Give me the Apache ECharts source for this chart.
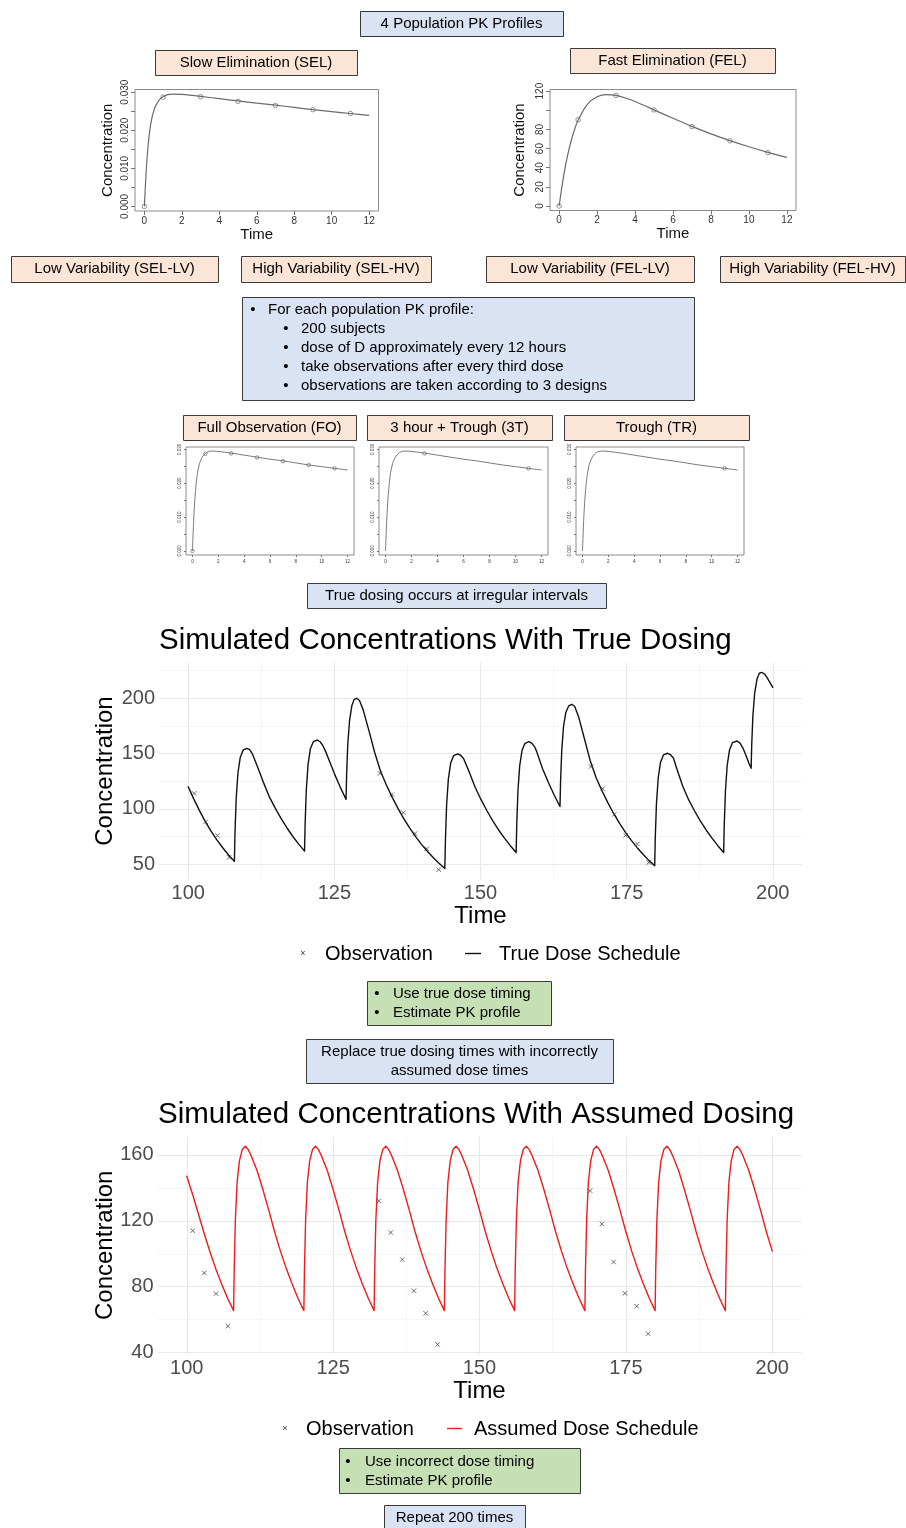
<!DOCTYPE html>
<html><head><meta charset="utf-8">
<script src="https://cdn.jsdelivr.net/npm/echarts@6/dist/echarts.min.js"></script>
<style>html,body{margin:0;padding:0;background:#fff}#c{width:906px;height:1528px}</style>
</head><body><div id="c"></div>
<script>
// ---------------- DATA ----------------
// Population PK profile (Slow Elimination) : [time, concentration]
const selCurve = [[0,0],[0.1,0.0095],[0.2,0.0160],[0.3,0.0203],[0.4,0.0232],[0.5,0.0251],[0.6,0.0264],[0.8,0.0280],[1.0,0.0288],[1.2,0.0293],[1.5,0.0295],[2,0.0294],[3,0.0289],[4,0.0283],[5,0.0277],[6,0.0271],[7,0.0266],[8,0.0260],[9,0.0254],[10,0.0249],[11,0.0244],[12,0.0239]];
const selObs = [[0,0],[1,0.0287],[3,0.0288],[5,0.0276],[7,0.0265],[9,0.0254],[11,0.0244]];
// Population PK profile (Fast Elimination)
const felCurve = [[0,0],[0.25,32.8],[0.5,57.5],[0.75,76.0],[1,89.6],[1.5,106.4],[2,114.1],[2.5,116.4],[3,115.5],[3.5,112.8],[4,109.1],[5,100.4],[6,91.6],[7,83.2],[8,75.4],[9,68.3],[10,61.9],[11,56.1],[12,50.8]];
const felObs = [[0,0],[1,90.1],[3,115.5],[5,100.4],[7,82.9],[9,68.1],[11,55.7]];
// observation designs (times of the SEL observations that are kept)
const foTimes = [0,1,3,5,7,9,11];
const t3Times = [3,11];
const trTimes = [11];
// simulated concentrations, true dosing : [time, concentration]
const trueCurve = [
 [100,120.0],[100.9,109.5],[101.9,98.6],[102.9,88.7],[103.9,79.9],[104.9,71.9],[105.9,64.8],[106.9,58.3],[107.9,52.5],
 [108.0,78.1],[108.2,108.7],[108.5,132.2],[108.9,146.5],[109.4,153.2],[110.0,154.7],
 [110.5,153.5],[111.0,149.5],[111.9,137.5],[112.9,123.5],[113.9,110.6],[114.9,100.4],[115.9,91.1],[116.9,82.7],[117.9,75.0],[118.9,68.1],[119.9,61.8],
 [120.0,86.9],[120.2,117.1],[120.5,140.2],[120.9,154.3],[121.4,160.8],[122.1,162.3],
 [122.6,160.5],[123.0,157.5],[123.5,152.0],[124.0,145.3],[125.0,131.9],[126.0,119.7],[127.0,108.6],
 [127.1,131.5],[127.3,158.9],[127.6,179.9],[128.0,193.6],[128.4,199.1],[128.8,200.0],
 [129.3,198.0],[129.9,190.0],[130.9,171.0],[131.9,151.0],[132.9,134.0],[133.9,121.6],[134.9,110.4],[135.9,100.2],[136.9,90.9],[137.9,82.5],[138.9,74.9],[139.9,67.9],[140.9,61.7],[141.9,56.0],[142.9,50.8],[143.9,46.1],
 [144.0,72.0],[144.2,103.1],[144.5,126.9],[144.9,141.4],[145.4,148.1],[146.1,149.7],
 [146.6,148.5],[147.1,145.5],[148.1,133.0],[149.1,119.3],[150.1,108.3],[151.1,98.3],[152.1,89.2],[153.1,80.9],[154.1,73.5],[155.1,66.7],[156.1,60.5],
 [156.2,85.6],[156.4,115.7],[156.7,138.7],[157.1,152.8],[157.6,159.3],[158.3,160.8],
 [158.8,159.2],[159.3,155.8],[159.6,152.0],[160.6,136.6],[161.6,124.0],[162.6,112.5],[163.6,102.1],
 [163.7,125.2],[163.9,153.0],[164.2,174.3],[164.6,187.2],[165.1,193.2],[165.6,194.6],
 [166.1,192.8],[166.8,183.0],[167.8,163.0],[168.8,143.0],[169.8,127.9],[170.8,116.1],[171.8,105.4],[172.8,95.6],[173.8,86.8],[174.8,78.8],[175.8,71.5],[176.8,64.9],[177.8,58.9],[178.8,53.4],[179.8,48.5],
 [179.9,74.0],[180.1,104.5],[180.4,127.9],[180.8,142.2],[181.3,148.8],[182.0,150.3],
 [182.5,149.0],[183.0,146.0],[183.6,136.0],[184.6,120.5],[185.6,108.3],[186.6,98.3],[187.6,89.2],[188.6,80.9],[189.6,73.5],[190.6,66.7],[191.6,60.5],
 [191.7,85.7],[191.9,116.0],[192.2,139.2],[192.6,153.3],[193.1,159.9],[193.9,161.4],
 [194.4,159.5],[194.9,155.0],[195.4,148.5],[195.9,141.5],[196.3,136.7],
 [196.4,158.4],[196.6,184.4],[196.9,204.4],[197.3,217.4],[197.7,222.7],[198.1,223.5],
 [198.6,222.0],[199.0,219.0],[199.5,214.5],[200.0,209.9]
];
// simulated concentrations, assumed (regular) dosing
const assumedCurve = [
 [100,147.1],[101,136.0],[102,124.0],[103,112.0],[104,100.8],[105,90.5],[106,81.2],[107,72.8],
 [108,65.5],[108.1,90.5],[108.3,120.5],[108.6,143.5],[109,156.5],[109.5,163.5],[110,165.3],[110.5,163.2],[111,159.5],[112,150.5],[113,139.0],[114,126.5],[115,113.4],[116,101.6],[117,91.0],[118,81.6],[119,73.0],
 [120,65.5],[120.1,90.5],[120.3,120.5],[120.6,143.5],[121,156.5],[121.5,163.5],[122,165.3],[122.5,163.2],[123,159.5],[124,150.5],[125,139.0],[126,126.5],[127,113.4],[128,101.6],[129,91.0],[130,81.6],[131,73.0],
 [132,65.5],[132.1,90.5],[132.3,120.5],[132.6,143.5],[133,156.5],[133.5,163.5],[134,165.3],[134.5,163.2],[135,159.5],[136,150.5],[137,139.0],[138,126.5],[139,113.4],[140,101.6],[141,91.0],[142,81.6],[143,73.0],
 [144,65.5],[144.1,90.5],[144.3,120.5],[144.6,143.5],[145,156.5],[145.5,163.5],[146,165.3],[146.5,163.2],[147,159.5],[148,150.5],[149,139.0],[150,126.5],[151,113.4],[152,101.6],[153,91.0],[154,81.6],[155,73.0],
 [156,65.5],[156.1,90.5],[156.3,120.5],[156.6,143.5],[157,156.5],[157.5,163.5],[158,165.3],[158.5,163.2],[159,159.5],[160,150.5],[161,139.0],[162,126.5],[163,113.4],[164,101.6],[165,91.0],[166,81.6],[167,73.0],
 [168,65.5],[168.1,90.5],[168.3,120.5],[168.6,143.5],[169,156.5],[169.5,163.5],[170,165.3],[170.5,163.2],[171,159.5],[172,150.5],[173,139.0],[174,126.5],[175,113.4],[176,101.6],[177,91.0],[178,81.6],[179,73.0],
 [180,65.5],[180.1,90.5],[180.3,120.5],[180.6,143.5],[181,156.5],[181.5,163.5],[182,165.3],[182.5,163.2],[183,159.5],[184,150.5],[185,139.0],[186,126.5],[187,113.4],[188,101.6],[189,91.0],[190,81.6],[191,73.0],
 [192,65.5],[192.1,90.5],[192.3,120.5],[192.6,143.5],[193,156.5],[193.5,163.5],[194,165.3],[194.5,163.2],[195,159.5],[196,150.5],[197,139.0],[198,126.5],[199,113.4],[200,101.6]
];
// observations (same in both simulated panels)
const obsTime = [101,103,105,107,132.8,134.85,136.8,138.8,140.8,142.85,168.9,170.9,172.9,174.85,176.85,178.8];
const obsConc = [114.0,88.4,75.8,56.1,132.1,112.9,96.5,77.6,63.9,45.0,138.3,118.1,95.0,76.0,68.2,51.5];
// tick values
const rTimeTicks = [0,2,4,6,8,10,12];
const selTicks = [0,0.005,0.01,0.015,0.02,0.025,0.03];
const selLabels = [0,0.01,0.02,0.03];
const felTicks = [0,20,40,60,80,100,120];
const felLabels = [0,20,40,60,80,120];
const timeMajor = [100,125,150,175,200];
const timeMinor = [112.5,137.5,162.5,187.5];
const trueMajor = [50,100,150,200];
const trueMinor = [75,125,175,225];
const assumedMajor = [40,80,120,160];
const assumedMinor = [60,100,140];

// ---------------- STYLE / LAYOUT ----------------
const FONT = '"Liberation Sans", Arial, Helvetica, sans-serif';
const BLUE = '#dae3f3', PEACH = '#fbe5d6', GREEN = '#c5e0b4', EDGE = '#3a3a3a';
const obsData = obsTime.map((t, i) => [t, obsConc[i]]);
const pick = times => selObs.filter(p => times.includes(p[0]));

function rX(gi, min, max, ticks, labels, o) {
  return {type:'value', gridIndex:gi, min, max,
    axisLine:{show:false, onZero:false}, splitLine:{show:false},
    axisTick:{show:true, inside:false, length:o.tl, customValues:ticks, lineStyle:{color:'#777', width:1}},
    axisLabel:{customValues:labels, fontSize:o.fs, color:'#333', margin:o.lm, fontFamily:FONT},
    name:o.name || '', nameLocation:'middle', nameGap:o.ng || 0,
    nameTextStyle:{fontSize:15, color:'#111', fontFamily:FONT}};
}
function rY(gi, min, max, ticks, labels, o) {
  const a = rX(gi, min, max, ticks, labels, o);
  a.axisLabel.rotate = 90;
  if (o.fmt) a.axisLabel.formatter = o.fmt;
  return a;
}
function gX(gi, o) {
  return {type:'value', gridIndex:gi, min:95, max:205, z:0,
    axisLine:{show:false, onZero:false},
    axisTick:{show:false, customValues:timeMajor},
    axisLabel:{customValues:timeMajor, fontSize:20, color:'#4d4d4d', margin:4, fontFamily:FONT},
    splitLine:{show:true, lineStyle:{color:'#e8e8e8', width:1.2}},
    name:'Time', nameLocation:'middle', nameGap:o.ng,
    nameTextStyle:{fontSize:24, color:'#000', fontFamily:FONT}};
}
function gY(gi, min, max, major, o) {
  return {type:'value', gridIndex:gi, min, max, z:0,
    axisLine:{show:false, onZero:false},
    axisTick:{show:false, customValues:major},
    axisLabel:{customValues:major, fontSize:20, color:'#4d4d4d', margin:4, fontFamily:FONT},
    splitLine:{show:true, lineStyle:{color:'#e8e8e8', width:1.2}},
    name:'Concentration', nameLocation:'middle', nameGap:o.ng, nameMoveOverlap:false,
    nameTextStyle:{fontSize:24, color:'#000', fontFamily:FONT}};
}
// extra axes that only carry the lighter minor grid lines of the ggplot panels
function minorAxis(gi, min, max, values, pos) {
  return {type:'value', gridIndex:gi, min, max, position:pos, z:0,
    axisLine:{show:false, onZero:false},
    axisTick:{show:false, customValues:values},
    axisLabel:{show:false},
    splitLine:{show:true, lineStyle:{color:'#f2f2f2', width:0.8}}};
}
const selFmt = v => v.toFixed(3);
const R_BIG = {tl:4, fs:10, lm:5};
const R_MINI = {tl:2, fs:4.5, lm:4};

const rGrid = {show:true, borderColor:'#8c8c8c', borderWidth:1, backgroundColor:'transparent'};
const grids = [
  Object.assign({left:135, top:89.5, width:243.5, height:121.5}, rGrid),
  Object.assign({left:550, top:89.5, width:246, height:121}, rGrid),
  Object.assign({left:186, top:447, width:168, height:108}, rGrid),
  Object.assign({left:379, top:447, width:169, height:108}, rGrid),
  Object.assign({left:576, top:447, width:168, height:108}, rGrid),
  {left:159, top:662.5, width:643, height:217},
  {left:157.5, top:1136.3, width:644, height:218}
];
const xAxes = [
  rX(0, -0.5, 12.5, rTimeTicks, rTimeTicks, Object.assign({name:'Time', ng:15}, R_BIG)),
  rX(1, -0.48, 12.48, rTimeTicks, rTimeTicks, Object.assign({name:'Time', ng:15}, R_BIG)),
  rX(2, -0.5, 12.5, rTimeTicks, rTimeTicks, R_MINI),
  rX(3, -0.5, 12.5, rTimeTicks, rTimeTicks, R_MINI),
  rX(4, -0.5, 12.5, rTimeTicks, rTimeTicks, R_MINI),
  gX(5, {ng:23}),
  gX(6, {ng:23}),
  minorAxis(5, 95, 205, timeMinor, 'top'),
  minorAxis(6, 95, 205, timeMinor, 'top')
];
const yAxes = [
  rY(0, -0.0012, 0.0307, selTicks, selLabels, Object.assign({name:'Concentration', ng:20, fmt:selFmt}, R_BIG)),
  rY(1, -4.68, 121.68, felTicks, felLabels, Object.assign({name:'Concentration', ng:23}, R_BIG)),
  rY(2, -0.0012, 0.0307, selTicks, selLabels, Object.assign({fmt:selFmt}, R_MINI)),
  rY(3, -0.0012, 0.0307, selTicks, selLabels, Object.assign({fmt:selFmt}, R_MINI)),
  rY(4, -0.0012, 0.0307, selTicks, selLabels, Object.assign({fmt:selFmt}, R_MINI)),
  gY(5, 36.1, 232.4, trueMajor, {ng:42}),
  gY(6, 39.0, 171.3, assumedMajor, {ng:40.5}),
  minorAxis(5, 36.1, 232.4, trueMinor, 'right'),
  minorAxis(6, 39.0, 171.3, assumedMinor, 'right')
];

function rCurve(gi, data, w) {
  return {type:'line', xAxisIndex:gi, yAxisIndex:gi, data, showSymbol:false, smooth:0.3, silent:true,
    lineStyle:{color:'#6a6a6a', width:w}, z:3};
}
function rPoints(gi, data, size) {
  return {type:'scatter', xAxisIndex:gi, yAxisIndex:gi, data, symbol:'circle', symbolSize:size, silent:true,
    itemStyle:{color:'rgba(255,255,255,0)', borderColor:'#6a6a6a', borderWidth:0.9}, z:4};
}
const xSymbol = 'path://M0,0L10,10M10,0L0,10';
function obsSeries(gi) {
  return {type:'scatter', xAxisIndex:gi, yAxisIndex:gi, data:obsData, symbol:xSymbol, symbolSize:4.5, silent:true,
    z:6, itemStyle:{color:'rgba(0,0,0,0)', borderColor:'#333', borderWidth:0.9}};
}
function simCurve(gi, data, color) {
  return {type:'line', xAxisIndex:gi, yAxisIndex:gi, data, showSymbol:false, smooth:false, silent:true,
    z:5, lineStyle:{color, width:1.4, join:'round', cap:'round'}};
}

const series = [
  rCurve(0, selCurve, 1.2), rPoints(0, selObs, 4.5),
  rCurve(1, felCurve, 1.2), rPoints(1, felObs, 4.5),
  rCurve(2, selCurve, 0.9), rPoints(2, pick(foTimes), 3.5),
  rCurve(3, selCurve, 0.9), rPoints(3, pick(t3Times), 3.5),
  rCurve(4, selCurve, 0.9), rPoints(4, pick(trTimes), 3.5),
  simCurve(5, trueCurve, '#111'), obsSeries(5),
  simCurve(6, assumedCurve, '#ee1c1c'), obsSeries(6)
];

// ---------------- DIAGRAM BOXES ----------------
const g = [];
function rect(x, y, w, h, fill) {
  g.push({type:'rect', silent:true, shape:{x:x + 0.5, y:y + 0.5, width:w, height:h},
    style:{fill, stroke:EDGE, lineWidth:1}, z:10});
}
function txt(x, y, text, size, align, color) {
  g.push({type:'text', silent:true, x, y, z:11,
    style:{text, font:(size || 15) + 'px ' + FONT, fill:color || '#000', align:align || 'center', verticalAlign:'middle'}});
}
function box(x, y, w, h, fill, lines) {
  rect(x, y, w, h, fill);
  lines.forEach((l, i) => txt(x + w / 2, y + h / 2 + (i - (lines.length - 1) / 2) * 19, l));
}
function bullet(bx, tx, y, text) { txt(bx, y, '•', 15, 'center'); txt(tx, y, text, 15, 'left'); }

box(360, 11, 203, 25, BLUE, ['4 Population PK Profiles']);
box(155, 50, 202, 25, PEACH, ['Slow Elimination (SEL)']);
box(570, 48, 205, 25, PEACH, ['Fast Elimination (FEL)']);
box(11, 256, 207, 26, PEACH, ['Low Variability (SEL-LV)']);
box(241, 256, 190, 26, PEACH, ['High Variability (SEL-HV)']);
box(486, 256, 208, 26, PEACH, ['Low Variability (FEL-LV)']);
box(720, 256, 185, 26, PEACH, ['High Variability (FEL-HV)']);
rect(242, 297, 452, 103, BLUE);
bullet(253, 268, 310, 'For each population PK profile:');
bullet(286, 301, 329, '200 subjects');
bullet(286, 301, 348, 'dose of D approximately every 12 hours');
bullet(286, 301, 367, 'take observations after every third dose');
bullet(286, 301, 386, 'observations are taken according to 3 designs');
box(183, 415, 173, 25, PEACH, ['Full Observation (FO)']);
box(367, 415, 185, 25, PEACH, ['3 hour + Trough (3T)']);
box(564, 415, 185, 25, PEACH, ['Trough (TR)']);
box(307, 583, 299, 25, BLUE, ['True dosing occurs at irregular intervals']);
rect(367, 981, 184, 44, GREEN);
bullet(377, 393, 994, 'Use true dose timing');
bullet(377, 393, 1013, 'Estimate PK profile');
box(306, 1039, 307, 44, BLUE, ['Replace true dosing times with incorrectly', 'assumed dose times']);
rect(339, 1448, 241, 45, GREEN);
bullet(348, 365, 1462, 'Use incorrect dose timing');
bullet(348, 365, 1481, 'Estimate PK profile');
box(384, 1505, 141, 26, BLUE, ['Repeat 200 times']);

// legends of the simulated panels
txt(303, 954, '×', 9, 'center', '#333');
txt(325, 954, 'Observation', 20, 'left');
g.push({type:'line', silent:true, z:11, shape:{x1:465, y1:953.5, x2:481, y2:953.5}, style:{stroke:'#111', lineWidth:1.4}});
txt(499, 954, 'True Dose Schedule', 20, 'left');
txt(285, 1429, '×', 9, 'center', '#333');
txt(306, 1429, 'Observation', 20, 'left');
g.push({type:'line', silent:true, z:11, shape:{x1:447, y1:1428.5, x2:462, y2:1428.5}, style:{stroke:'#ee1c1c', lineWidth:1.4}});
txt(474, 1429, 'Assumed Dose Schedule', 20, 'left');

const chart = echarts.init(document.getElementById('c'), null, {renderer:'canvas'});
chart.setOption({
  animation:false,
  backgroundColor:'#fff',
  textStyle:{fontFamily:FONT},
  title:[
    {text:'Simulated Concentrations With True Dosing', left:159, top:626, padding:0,
      textStyle:{fontSize:29.5, fontWeight:'normal', color:'#000', fontFamily:FONT}},
    {text:'Simulated Concentrations With Assumed Dosing', left:158, top:1100, padding:0,
      textStyle:{fontSize:29.5, fontWeight:'normal', color:'#000', fontFamily:FONT}}
  ],
  grid:grids, xAxis:xAxes, yAxis:yAxes, series, graphic:g
});
</script></body></html>
